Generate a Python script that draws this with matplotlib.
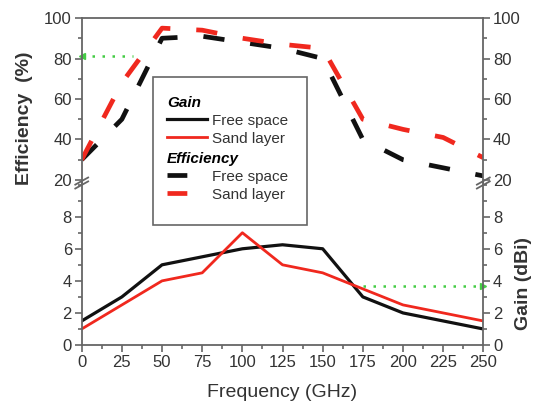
import numpy as np
import matplotlib.pyplot as plt
from matplotlib.lines import Line2D
from matplotlib.patches import Rectangle
from matplotlib.ticker import MultipleLocator

plt.rcParams['font.family'] = ['Liberation Sans', 'DejaVu Sans']

# frequency points (GHz)
freq = [0, 25, 50, 75, 100, 125, 150, 175, 200, 225, 250]

# efficiency (%)
eff_free = [30, 50, 90, 91, 88, 85, 80, 40, 30, 26, 22]
eff_sand = [30, 68, 95, 94, 90, 87, 85, 50, 45, 41, 31]

# gain (dBi)
gain_free = [1.5, 3.0, 5.0, 5.5, 6.0, 6.25, 6.0, 3.0, 2.0, 1.5, 1.0]
gain_sand = [1.0, 2.5, 4.0, 4.5, 7.0, 5.0, 4.5, 3.5, 2.5, 2.0, 1.5]

# green pointer lines
ptr_eff_x = [0, 32]
ptr_eff_y = [81, 81]
ptr_gain_x = [175, 250]
ptr_gain_y = [3.7, 3.7]

red = '#f0281e'
blk = '#111111'
green = '#44cc44'
spine_c = '#666666'
txt_c = '#333333'
dash = (0, (4.5, 5.5))

fig = plt.figure(figsize=(5.39, 4.05), dpi=100)
ax_eff = fig.add_axes([0.1516, 0.5481, 0.7451, 0.4074])
ax_gain = fig.add_axes([0.1516, 0.1481, 0.7451, 0.4000])

# efficiency panel
ax_eff.plot(freq, eff_free, color=blk, lw=3.4, linestyle=dash)
ax_eff.plot(freq, eff_sand, color=red, lw=3.4, linestyle=dash)
ax_eff.plot(ptr_eff_x, ptr_eff_y, linestyle=(0, (1, 3)), color=green, lw=1.8)
ax_eff.plot(ptr_eff_x[:1], ptr_eff_y[:1], marker='<', color=green, ms=4, clip_on=False)
ax_eff.set_xlim(0, 250)
ax_eff.set_ylim(18.5, 100)
ax_eff.yaxis.set_major_locator(MultipleLocator(20))
ax_eff.yaxis.set_minor_locator(MultipleLocator(10))
ax_eff.spines['bottom'].set_visible(False)
ax_eff.tick_params(axis='x', which='both', bottom=False, labelbottom=False, top=False)

# gain panel
ax_gain.plot(freq, gain_free, color=blk, lw=2.3)
ax_gain.plot(freq, gain_sand, color=red, lw=2.0)
ax_gain.plot(ptr_gain_x, ptr_gain_y, linestyle=(0, (1, 3)), color=green, lw=1.8)
ax_gain.plot(ptr_gain_x[-1:], ptr_gain_y[-1:], marker='>', color=green, ms=4, clip_on=False)
ax_gain.set_xlim(0, 250)
ax_gain.set_ylim(0, 10.1)
ax_gain.yaxis.set_major_locator(MultipleLocator(2))
ax_gain.yaxis.set_minor_locator(MultipleLocator(1))
ax_gain.xaxis.set_major_locator(MultipleLocator(25))
ax_gain.xaxis.set_minor_locator(MultipleLocator(12.5))
ax_gain.spines['top'].set_visible(False)
ax_gain.set_yticks([0, 2, 4, 6, 8])

for ax in (ax_eff, ax_gain):
    for s in ax.spines.values():
        s.set_color(spine_c)
        s.set_linewidth(1.3)
    ax.tick_params(which='both', direction='out', left=True, right=True,
                   labelleft=True, labelright=True, color=spine_c, width=1.2,
                   labelsize=12, labelcolor=txt_c, pad=2)
    ax.tick_params(which='major', length=5)
    ax.tick_params(which='minor', length=3)
ax_gain.tick_params(axis='x', which='both', top=False)

# break marks on both vertical spines
for xa in (0, 1):
    for dy in (-0.012, 0.012):
        ax_gain.plot([xa - 0.016, xa + 0.016], [1 + dy - 0.022, 1 + dy + 0.022],
                     transform=ax_gain.transAxes, color=spine_c, lw=1.3, clip_on=False)

ax_gain.set_xlabel('Frequency (GHz)', fontsize=14, color=txt_c, labelpad=10)
fig.text(0.045, 1 - 118 / 405, 'Efficiency  (%)', rotation=90, fontsize=14,
         fontweight='bold', color=txt_c, ha='center', va='center')
fig.text(0.972, 1 - 283 / 405, 'Gain (dBi)', rotation=90, fontsize=14,
         fontweight='bold', color=txt_c, ha='center', va='center')

# legend frame and two stacked legends
frame = Rectangle((153 / 539, 1 - 225 / 405), 154 / 539, 148 / 405,
                  transform=fig.transFigure, facecolor='white',
                  edgecolor=spine_c, lw=1.2, zorder=3)
fig.patches.append(frame)

h_gain = [Line2D([], [], color=blk, lw=2.3), Line2D([], [], color=red, lw=2.0)]
h_eff = [Line2D([], [], color=blk, lw=3.4, linestyle=(0, (4.2, 30))),
         Line2D([], [], color=red, lw=3.4, linestyle=(0, (4.2, 30)))]
labels = ['Free space', 'Sand layer']

for handles, title, ytop in ((h_gain, 'Gain', 96), (h_eff, 'Efficiency', 152)):
    leg = fig.legend(handles, labels, title=title, loc='upper left',
                     bbox_to_anchor=(167 / 539, 1 - ytop / 405), frameon=False,
                     fontsize=11, handlelength=2.6, handletextpad=0.35,
                     labelspacing=0.25, borderpad=0, borderaxespad=0,
                     alignment='left')
    leg.get_title().set_fontsize(11)
    leg.get_title().set_fontweight('bold')
    leg.get_title().set_fontstyle('italic')
    leg.set_zorder(5)
    for t in leg.get_texts():
        t.set_color(txt_c)

fig.savefig('out.png', dpi=100)
